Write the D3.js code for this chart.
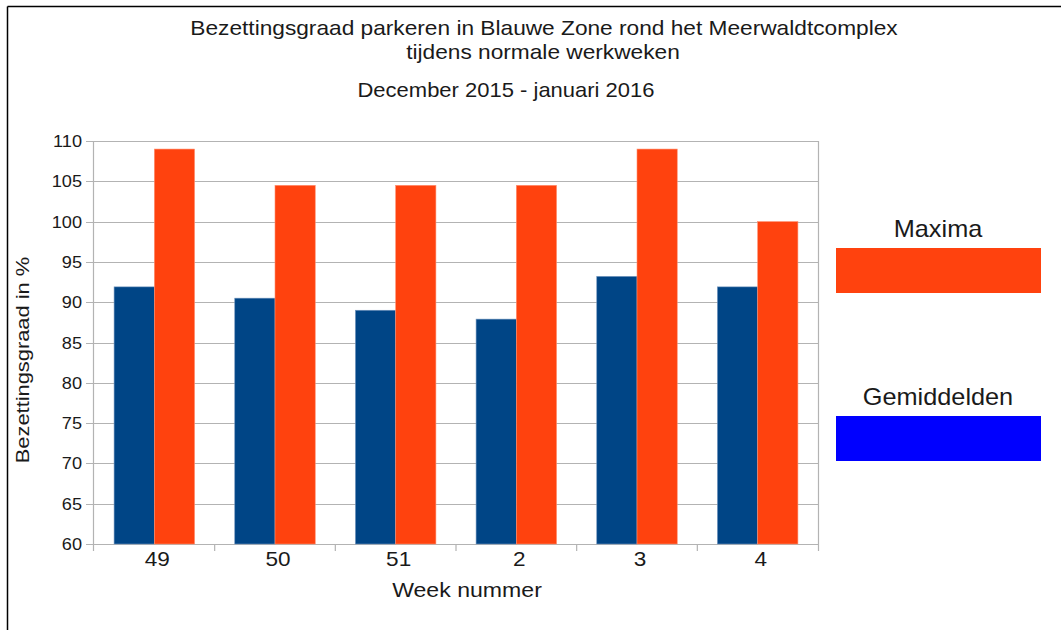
<!DOCTYPE html>
<meta charset="utf-8">
<style>
  body { margin: 0; background: #fff; }
  svg text { font-family: "Liberation Sans", Arial, sans-serif; fill: #1a1a1a; }
</style>
<svg width="1061" height="630"></svg>
<script src="https://d3js.org/d3.v7.min.js"></script>
<script>

var weeks = ['49', '50', '51', '2', '3', '4'];
var gemiddelden = [91.9, 90.5, 89.0, 87.9, 93.2, 91.9];
var maxima = [109.0, 104.5, 104.5, 104.5, 109.0, 100.0];
var yTicks = [60, 65, 70, 75, 80, 85, 90, 95, 100, 105, 110];

var col_gem = '#004586';
var col_max = '#ff420e';

var svg = d3.select("svg"),
    width = +svg.attr("width"),
    height = +svg.attr("height");

var plot = {left: 94, right: 818, top: 141, bottom: 544};

// text in the original is a bit stretched sideways
function label(g, x, y, txt, size, sx, anchor, rot) {
  var t = 'translate(' + x + ',' + y + ')' + (rot ? ' rotate(' + rot + ')' : '') + ' scale(' + sx + ',1)';
  return g.append('text')
    .attr('transform', t)
    .attr('text-anchor', anchor || 'middle')
    .style('font-size', size + 'px')
    .text(txt);
}

// frame (left + top edges only visible)
svg.append('line').attr('x1', 7.5).attr('x2', 7.5).attr('y1', 6.5).attr('y2', height)
  .attr('stroke', '#000').attr('stroke-width', 1.5);
svg.append('line').attr('x1', 7.5).attr('x2', width).attr('y1', 6.5).attr('y2', 6.5)
  .attr('stroke', '#000').attr('stroke-width', 1.5);

var x = d3.scaleBand()
    .domain(weeks)
    .range([plot.left, plot.right])
    .paddingInner(0.333)
    .paddingOuter(0.1665);

var x0 = d3.scaleBand().domain(weeks).range([plot.left, plot.right]);

var y = d3.scaleLinear()
    .domain([60, 110])
    .range([plot.bottom, plot.top]);

// gridlines
svg.append('g')
  .selectAll('line')
  .data(yTicks)
  .enter().append('line')
  .attr('x1', plot.left - 8)
  .attr('x2', plot.right)
  .attr('y1', function(d){ return Math.round(y(d)) + 0.5; })
  .attr('y2', function(d){ return Math.round(y(d)) + 0.5; })
  .attr('stroke', '#b3b3b3')
  .attr('stroke-width', 1.2);

// vertical axis lines
svg.append('line').attr('x1', plot.left - 0.5).attr('x2', plot.left - 0.5)
  .attr('y1', plot.top).attr('y2', plot.bottom + 7)
  .attr('stroke', '#b3b3b3').attr('stroke-width', 1.2);
svg.append('line').attr('x1', plot.right + 0.5).attr('x2', plot.right + 0.5)
  .attr('y1', plot.top).attr('y2', plot.bottom + 7)
  .attr('stroke', '#b3b3b3').attr('stroke-width', 1.2);

// category boundary ticks
svg.append('g')
  .selectAll('line')
  .data(weeks.slice(1))
  .enter().append('line')
  .attr('x1', function(d){ return x0(d); })
  .attr('x2', function(d){ return x0(d); })
  .attr('y1', plot.bottom)
  .attr('y2', plot.bottom + 7)
  .attr('stroke', '#b3b3b3')
  .attr('stroke-width', 1.2);

// y tick labels
var gy = svg.append('g');
yTicks.forEach(function(d){
  label(gy, 82, y(d) + 6, d, 16.5, 1.1, 'end');
});

// x tick labels
var gx = svg.append('g');
weeks.forEach(function(d){
  label(gx, x0(d) + x0.bandwidth() / 2 + 3, 566, d, 20, 1.13);
});

var bw = x.bandwidth() / 2;

svg.append('g')
  .selectAll('rect')
  .data(gemiddelden)
  .enter().append('rect')
  .attr('x', function(d, i){ return x(weeks[i]); })
  .attr('y', function(d){ return y(d); })
  .attr('width', bw)
  .attr('height', function(d){ return y(60) - y(d); })
  .attr('fill', col_gem)
  .attr('stroke', '#6f93bd')
  .attr('stroke-width', 0.6);

svg.append('g')
  .selectAll('rect')
  .data(maxima)
  .enter().append('rect')
  .attr('x', function(d, i){ return x(weeks[i]) + bw; })
  .attr('y', function(d){ return y(d); })
  .attr('width', bw)
  .attr('height', function(d){ return y(60) - y(d); })
  .attr('fill', col_max)
  .attr('stroke', '#ff8f70')
  .attr('stroke-width', 0.6);

// titles
label(svg, 544, 35, 'Bezettingsgraad parkeren in Blauwe Zone rond het Meerwaldtcomplex', 20, 1.135);
label(svg, 543, 59, 'tijdens normale werkweken', 20, 1.135);
label(svg, 506, 97, 'December 2015 - januari 2016', 20, 1.1);

label(svg, 467, 597, 'Week nummer', 20, 1.155);
label(svg, 29, 360, 'Bezettingsgraad in %', 19, 1.15, 'middle', -90);

// legend
var legend = [
  {name: 'Maxima', color: col_max, y: 248},
  {name: 'Gemiddelden', color: '#0000ff', y: 416}
];

var lg = svg.append('g');
legend.forEach(function(d){
  label(lg, 938, d.y - 11, d.name, 23, 1.1);
  lg.append('rect')
    .attr('x', 836)
    .attr('y', d.y)
    .attr('width', 205)
    .attr('height', 45)
    .attr('fill', d.color);
});

</script>
